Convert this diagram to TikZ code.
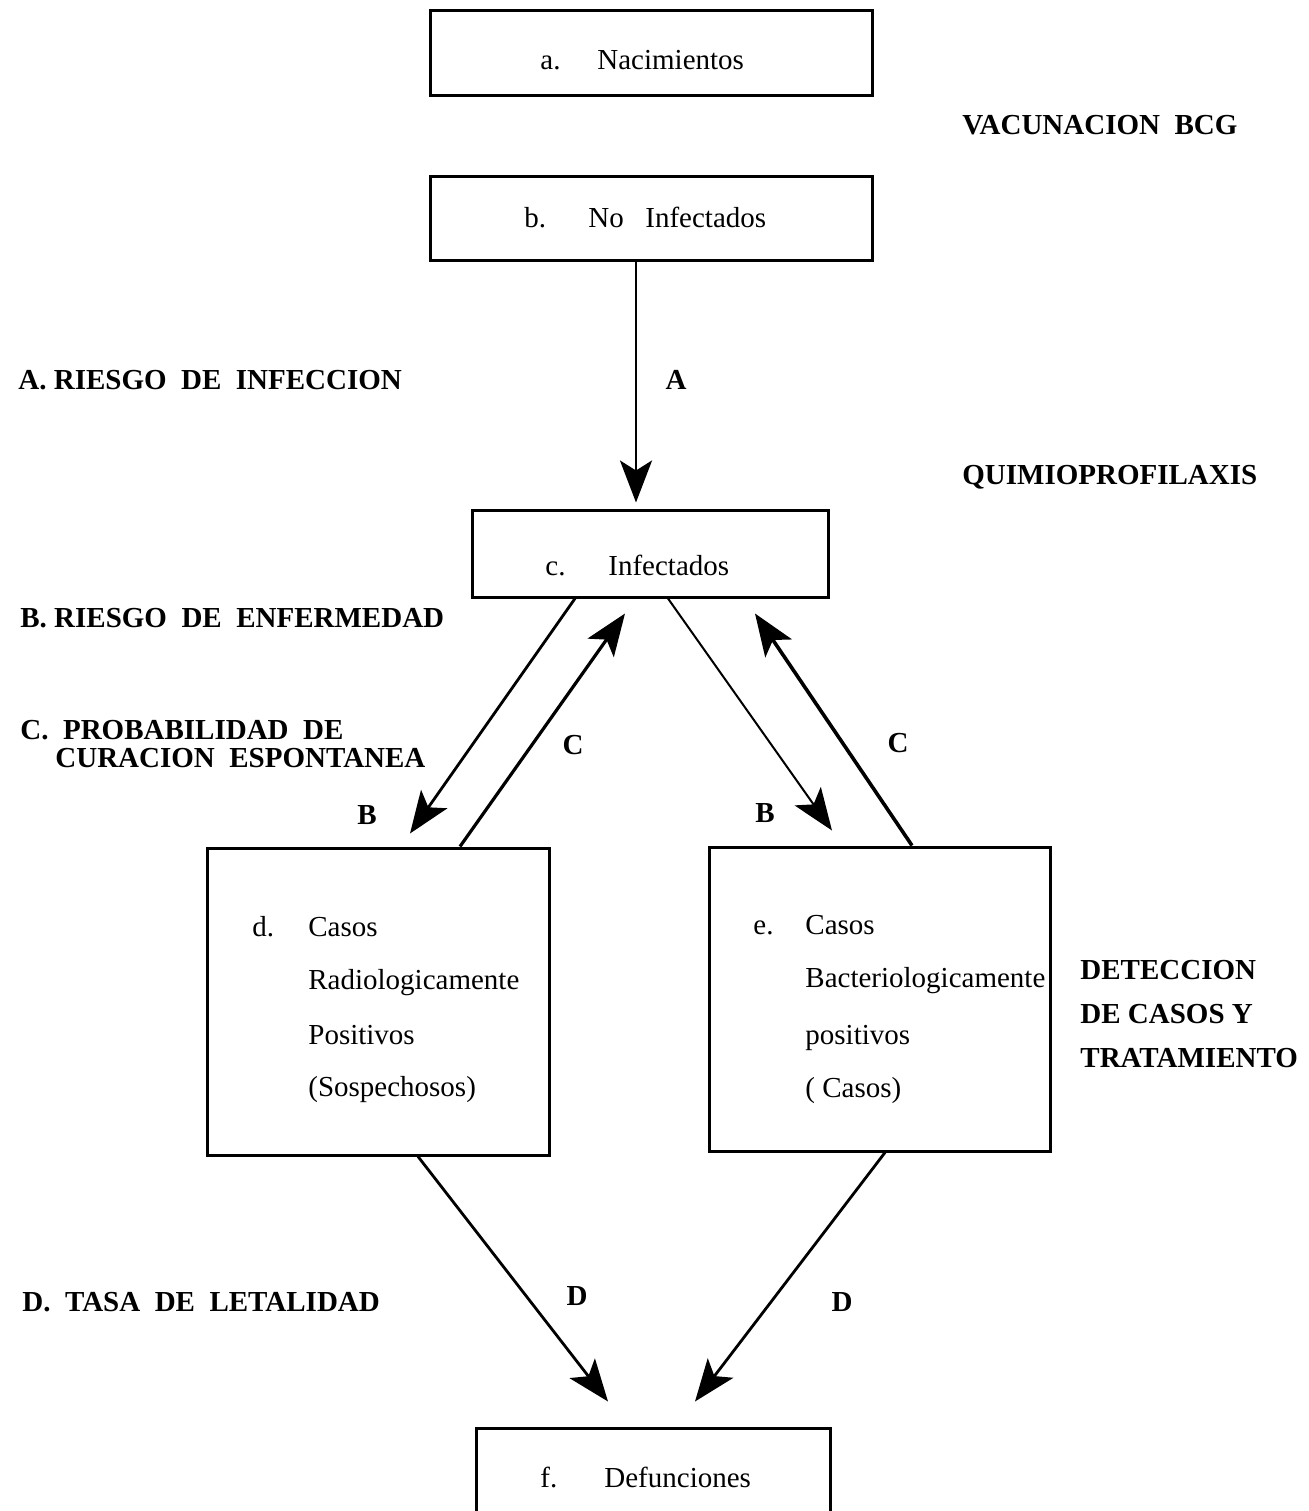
\documentclass[tikz,border=0pt]{standalone}
\usepackage{fontspec}
\setmainfont{Liberation Serif}
\usetikzlibrary{arrows.meta,calc}
\begin{document}
\begin{tikzpicture}[x=0.5pt,y=-0.5pt,
  box/.style={draw,line width=1.5pt,inner sep=0pt},
  boxtext/.style={anchor=west,inner sep=0pt,text height=12pt,text depth=3pt,font=\fontsize{14.5}{17}\selectfont},
  label/.style={anchor=west,inner sep=0pt,text height=12pt,text depth=3pt,font=\fontsize{14.5}{17}\selectfont\bfseries},
  letter/.style={inner sep=0pt,text height=12pt,text depth=3pt,font=\fontsize{14.5}{17}\selectfont\bfseries},
  flow/.style={line width=1.4pt,-{Stealth[length=21pt,width=16pt,inset=5pt]}}]
\useasboundingbox (0,0) rectangle (1308,1511);

% compartments
\node[box,minimum width=221pt,minimum height=42.5pt] (a) at (651,52.5) {};
\node[box,minimum width=221pt,minimum height=42pt] (b) at (651,218) {};
\node[box,minimum width=178pt,minimum height=43.5pt] (c) at (650,553.5) {};
\node[box,minimum width=171pt,minimum height=153.5pt] (d) at (378,1001.5) {};
\node[box,minimum width=170.5pt,minimum height=152pt] (e) at (879.5,999) {};
\node[box,minimum width=177pt,minimum height=50pt] (f) at (653,1478) {};

% compartment texts
\node[boxtext] (ta1) at (540,60) {a.};
\node[boxtext] (ta2) at (597,60) {Nacimientos};
\node[boxtext] (tb1) at (524,218) {b.};
\node[boxtext] (tb2) at (588,218) {No};
\node[boxtext] (tb3) at (645,218) {Infectados};
\node[boxtext] (tc1) at (545,566) {c.};
\node[boxtext] (tc2) at (608,566) {Infectados};
\node[boxtext] (td0) at (252,927) {d.};
\node[boxtext] (td1) at (308,927) {Casos};
\node[boxtext] (td2) at (308,980) {Radiologicamente};
\node[boxtext] (td3) at (308,1035) {Positivos};
\node[boxtext] (td4) at (308,1087) {(Sospechosos)};
\node[boxtext] (te0) at (753,925) {e.};
\node[boxtext] (te1) at (805,925) {Casos};
\node[boxtext] (te2) at (805,978) {Bacteriologicamente};
\node[boxtext] (te3) at (805,1035) {positivos};
\node[boxtext] (te4) at (805,1088) {( Casos)};
\node[boxtext] (tf1) at (540,1478) {f.};
\node[boxtext] (tf2) at (604,1478) {Defunciones};

% side labels
\node[label] (vac) at (962,125) {VACUNACION\ \ BCG};
\node[label] (qui) at (962,475) {QUIMIOPROFILAXIS};
\node[label] (lA) at (18,380) {A. RIESGO\ \ DE\ \ INFECCION};
\node[label] (lB) at (20,618) {B. RIESGO\ \ DE\ \ ENFERMEDAD};
\node[label,align=left,text height=,text depth=,font=\fontsize{14.5}{14}\selectfont\bfseries] (lC) at (20,744)
  {C.\ \ PROBABILIDAD\ \ DE\\\hspace*{17.5pt}CURACION\ \ ESPONTANEA};
\node[label] (lD) at (22,1302) {D.\ \ TASA\ \ DE\ \ LETALIDAD};
\node[label,align=left,text height=,text depth=,font=\fontsize{14.5}{22}\selectfont\bfseries] (det) at (1080,1014)
  {DETECCION\\DE CASOS Y\\TRATAMIENTO};

% flows between compartments
\draw[flow] ($(b.south)+(-15,0)$) -- ($(c.north)+(-14,-6)$);
\draw[flow] ($(c.south)+(-75,0)$) -- ($(d.north)+(32,-13)$);
\draw[flow,line width=1.6pt] ($(d.north)+(82,0)$) -- ($(c.south)+(-25,15)$);
\draw[flow,line width=1pt] ($(c.south)+(18,0)$) -- ($(e.north)+(-47.5,-15)$);
\draw[flow,line width=1.8pt] ($(e.north)+(32.5,0)$) -- ($(c.south)+(105,15)$);
\draw[flow] ($(d.south)+(40,0)$) -- ($(f.north)+(-45,-25)$);
\draw[flow] ($(e.south)+(5.5,0)$) -- ($(f.north)+(42,-25)$);

% flow letters
\node[letter] (fA) at (676,380) {A};
\node[letter] (fB1) at (367,815) {B};
\node[letter] (fC1) at (573,745) {C};
\node[letter] (fB2) at (765,813) {B};
\node[letter] (fC2) at (898,743) {C};
\node[letter] (fD1) at (577,1296) {D};
\node[letter] (fD2) at (842,1302) {D};
\end{tikzpicture}
\end{document}
